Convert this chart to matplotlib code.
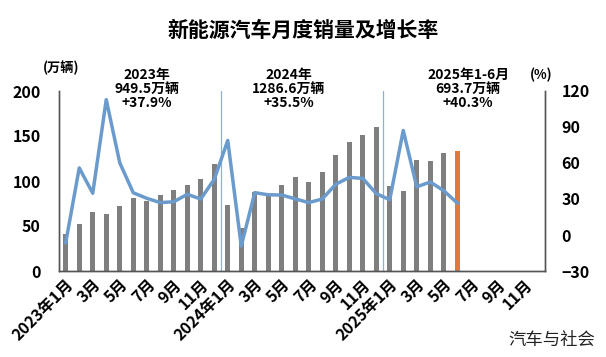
import matplotlib
matplotlib.use("Agg")
import matplotlib.pyplot as plt
import numpy as np

plt.rcParams['font.family'] = ['Noto Sans CJK SC', 'DejaVu Sans']

# monthly sales, 10k vehicles (2023-01 .. 2025-06)
sales = [40.8, 52.5, 65.3, 63.6, 71.7, 80.6, 78.0, 84.6, 90.4, 95.6, 102.6, 119.1,
         72.9, 47.7, 88.3, 85.0, 95.5, 104.9, 99.1, 110.0, 128.7, 143.0, 151.2, 159.6,
         94.4, 89.2, 123.7, 122.6, 130.7, 132.9]
# year-on-year growth, %
growth = [-6.3, 55.9, 34.8, 112.8, 60.2, 35.2, 30.6, 27.0, 27.7, 33.9, 30.0, 46.4,
          78.8, -9.2, 35.3, 33.5, 33.3, 30.1, 27.0, 30.0, 42.3, 48.0, 47.2, 34.5,
          29.4, 87.1, 40.1, 44.2, 36.9, 26.7]
n_months = 36
tick_labels = ['2023年1月', '3月', '5月', '7月', '9月', '11月',
               '2024年1月', '3月', '5月', '7月', '9月', '11月',
               '2025年1月', '3月', '5月', '7月', '9月', '11月']
notes = ['2023年\n949.5万辆\n+37.9%', '2024年\n1286.6万辆\n+35.5%',
         '2025年1-6月\n693.7万辆\n+40.3%']

W, H = 606, 357
fig = plt.figure(figsize=(W / 100, H / 100), dpi=100)
ax = fig.add_axes([59 / W, 1 - 271 / H, (545 - 59) / W, (271 - 91) / H])
ax2 = ax.twinx()

x = np.arange(len(sales))
colors = ['#7f7f7f'] * len(sales)
colors[-1] = '#e2793a'
ax.bar(x, sales, width=0.4, color=colors, zorder=2)
ax2.plot(x, growth, color='#6a9bcc', lw=2.5, zorder=3)

ax.set_xlim(-0.5, n_months - 0.5)
ax.set_ylim(0, 200)
ax.set_yticks([0, 50, 100, 150, 200])
ax2.set_ylim(-30, 120)
ax2.set_yticks([-30, 0, 30, 60, 90, 120])

ax.set_xticks(np.arange(0, n_months, 2))
ax.set_xticklabels(tick_labels, rotation=45, ha='right', rotation_mode='anchor',
                   fontsize=10.5, fontweight='bold')
for a in (ax, ax2):
    a.tick_params(length=0, labelsize=11.5)
    for lab in a.get_yticklabels():
        lab.set_fontweight('bold')
    a.spines['top'].set_visible(False)
    for s in ('left', 'right', 'bottom'):
        a.spines[s].set_color('#555555')
        a.spines[s].set_linewidth(1.0)
ax.tick_params(axis='y', pad=13)
ax.tick_params(axis='x', pad=4)
ax2.tick_params(axis='y', pad=12)

# year separators
for xv in (11.5, 23.5):
    ax.axvline(xv, ymin=0, ymax=1.0, color='#8fb0d3', lw=0.9, zorder=1)

note_x = [6.0, 16.5, 29.8]
for nx, txt in zip(note_x, notes):
    ax.text(nx, 1.13, txt, transform=ax.get_xaxis_transform(), ha='center', va='top',
            fontsize=10, fontweight='bold', linespacing=1.0)

fig.text(61 / W, 1 - 68 / H, '(万辆)', ha='center', va='center', fontsize=9.5, fontweight='bold')
fig.text(541 / W, 1 - 75 / H, '(%)', ha='center', va='center', fontsize=9.5, fontweight='bold')
fig.text(303 / W, 1 - 30 / H, '新能源汽车月度销量及增长率', ha='center', va='center',
         fontsize=15, fontweight='bold')
fig.text(552 / W, 1 - 340 / H, '汽车与社会', ha='center', va='center', fontsize=12.5,
         color='#222222')

fig.savefig('out.png', dpi=100)
